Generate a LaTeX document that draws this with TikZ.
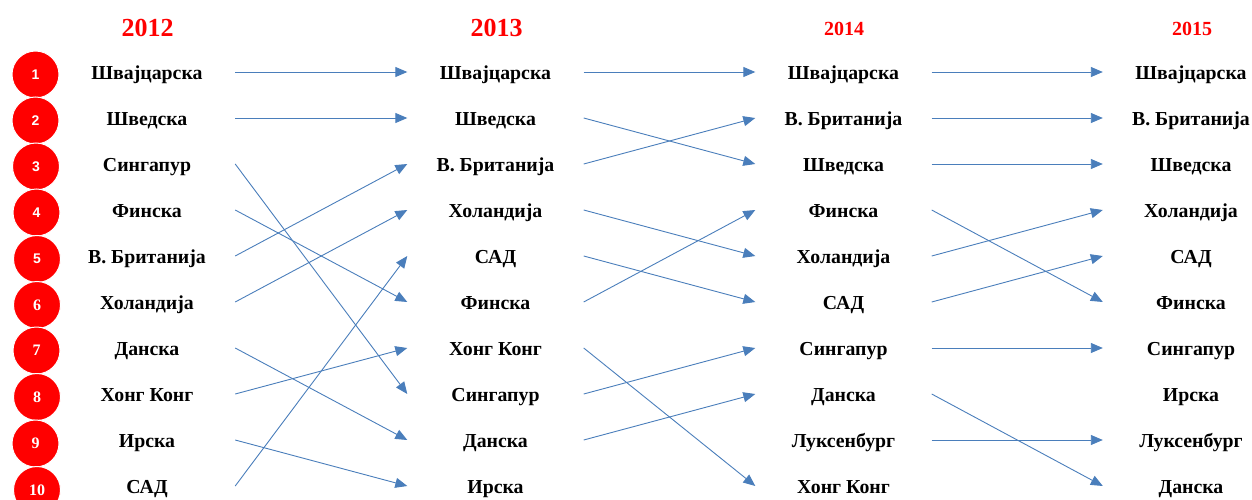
\documentclass[tikz,border=0pt]{standalone}
\usepackage{fontspec}
\setmainfont{Liberation Serif}
\newfontfamily\numsans{Liberation Sans}
\usetikzlibrary{arrows.meta}
\definecolor{arrblue}{HTML}{4A7EBB}
\definecolor{hdrred}{HTML}{FF0000}
\tikzset{
  country/.style={minimum width=176pt, inner sep=0pt, text height=15pt, text depth=0pt,
    font=\fontsize{19.8}{22}\selectfont\bfseries, anchor=center},
  bighdr/.style={font=\fontsize{26}{28}\selectfont\bfseries, text=hdrred, inner sep=0pt},
  smallhdr/.style={font=\fontsize{20}{22}\selectfont\bfseries, text=hdrred, inner sep=0pt},
  rankdot/.style={circle, fill=hdrred, draw=white, line width=1pt, minimum size=47pt, inner sep=0pt,
    text=white},
  sansnum/.style={font=\numsans\fontsize{14}{16}\selectfont\bfseries},
  serifnum/.style={font=\fontsize{16}{18}\selectfont\bfseries},
  arr/.style={draw=arrblue, line width=0.9pt, -{Triangle[length=12pt,width=10pt]}}
}
\begin{document}
\begin{tikzpicture}[x=1pt,y=-1pt]
\useasboundingbox (0,0) rectangle (1252,500);
% headers
\node[bighdr] (h12) at (147.5,28) {2012};
\node[bighdr] (h13) at (496.5,28) {2013};
\node[smallhdr] (h14) at (844,28.5) {2014};
\node[smallhdr] (h15) at (1192,28.5) {2015};
% rank circles
\node[rankdot, sansnum] (r1) at (35.5,74.5) {1};
\node[rankdot, sansnum] (r2) at (35.5,120.5) {2};
\node[rankdot, sansnum] (r3) at (36,166.5) {3};
\node[rankdot, sansnum] (r4) at (36.5,212.5) {4};
\node[rankdot, sansnum] (r5) at (37,259) {5};
\node[rankdot, serifnum] (r6) at (37,305) {6};
\node[rankdot, serifnum] (r7) at (36.5,350.5) {7};
\node[rankdot, serifnum] (r8) at (37,397) {8};
\node[rankdot, serifnum] (r9) at (35.5,443.5) {9};
\node[rankdot, serifnum] (r10) at (37,490) {10};
% column 2012
\node[country] (a1) at (147,72) {Швајцарска};
\node[country] (a2) at (147,118) {Шведска};
\node[country] (a3) at (147,164) {Сингапур};
\node[country] (a4) at (147,210) {Финска};
\node[country] (a5) at (147,256) {В. Британија};
\node[country] (a6) at (147,302) {Холандија};
\node[country] (a7) at (147,348) {Данска};
\node[country] (a8) at (147,394) {Хонг Конг};
\node[country] (a9) at (147,440) {Ирска};
\node[country] (a10) at (147,486) {САД};
% column 2013
\node[country] (b1) at (495.5,72) {Швајцарска};
\node[country] (b2) at (495.5,118) {Шведска};
\node[country] (b3) at (495.5,164) {В. Британија};
\node[country] (b4) at (495.5,210) {Холандија};
\node[country] (b5) at (495.5,256) {САД};
\node[country] (b6) at (495.5,302) {Финска};
\node[country] (b7) at (495.5,348) {Хонг Конг};
\node[country] (b8) at (495.5,394) {Сингапур};
\node[country] (b9) at (495.5,440) {Данска};
\node[country] (b10) at (495.5,486) {Ирска};
% column 2014
\node[country] (c1) at (843.5,72) {Швајцарска};
\node[country] (c2) at (843.5,118) {В. Британија};
\node[country] (c3) at (843.5,164) {Шведска};
\node[country] (c4) at (843.5,210) {Финска};
\node[country] (c5) at (843.5,256) {Холандија};
\node[country] (c6) at (843.5,302) {САД};
\node[country] (c7) at (843.5,348) {Сингапур};
\node[country] (c8) at (843.5,394) {Данска};
\node[country] (c9) at (843.5,440) {Луксенбург};
\node[country] (c10) at (843.5,486) {Хонг Конг};
% column 2015
\node[country] (d1) at (1191,72) {Швајцарска};
\node[country] (d2) at (1191,118) {В. Британија};
\node[country] (d3) at (1191,164) {Шведска};
\node[country] (d4) at (1191,210) {Холандија};
\node[country] (d5) at (1191,256) {САД};
\node[country] (d6) at (1191,302) {Финска};
\node[country] (d7) at (1191,348) {Сингапур};
\node[country] (d8) at (1191,394) {Ирска};
\node[country] (d9) at (1191,440) {Луксенбург};
\node[country] (d10) at (1191,486) {Данска};
% arrows 2012 -> 2013
\draw[arr] (a1.east) -- (b1.west);
\draw[arr] (a2.east) -- (b2.west);
\draw[arr] (a3.east) -- (b8.west);
\draw[arr] (a4.east) -- (b6.west);
\draw[arr] (a5.east) -- (b3.west);
\draw[arr] (a6.east) -- (b4.west);
\draw[arr] (a7.east) -- (b9.west);
\draw[arr] (a8.east) -- (b7.west);
\draw[arr] (a9.east) -- (b10.west);
\draw[arr] (a10.east) -- (b5.west);
% arrows 2013 -> 2014
\draw[arr] (b1.east) -- (c1.west);
\draw[arr] (b2.east) -- (c3.west);
\draw[arr] (b3.east) -- (c2.west);
\draw[arr] (b4.east) -- (c5.west);
\draw[arr] (b5.east) -- (c6.west);
\draw[arr] (b6.east) -- (c4.west);
\draw[arr] (b7.east) -- (c10.west);
\draw[arr] (b8.east) -- (c7.west);
\draw[arr] (b9.east) -- (c8.west);
% arrows 2014 -> 2015
\draw[arr] (c1.east) -- (d1.west);
\draw[arr] (c2.east) -- (d2.west);
\draw[arr] (c3.east) -- (d3.west);
\draw[arr] (c4.east) -- (d6.west);
\draw[arr] (c5.east) -- (d4.west);
\draw[arr] (c6.east) -- (d5.west);
\draw[arr] (c7.east) -- (d7.west);
\draw[arr] (c8.east) -- (d10.west);
\draw[arr] (c9.east) -- (d9.west);
\end{tikzpicture}
\end{document}
